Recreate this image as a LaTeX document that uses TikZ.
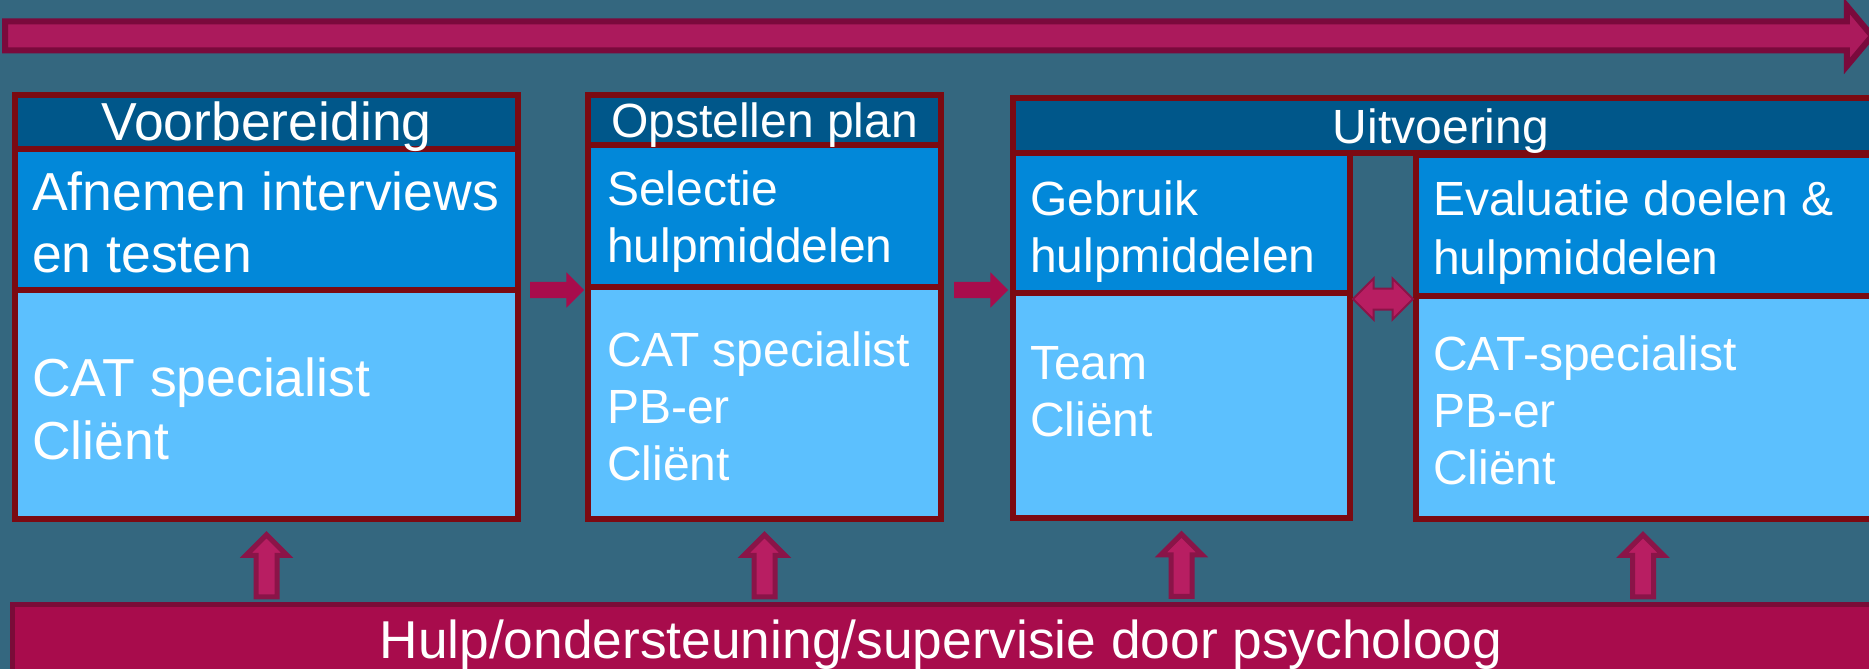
\documentclass[tikz,border=0pt]{standalone}
\usepackage{fontspec}
\setmainfont{Liberation Sans}
\usetikzlibrary{shapes.arrows,calc}
\definecolor{bg}{HTML}{34677F}
\definecolor{hdr}{HTML}{00578A}
\definecolor{mid}{HTML}{0288D9}
\definecolor{lite}{HTML}{5CC0FE}
\definecolor{brd}{HTML}{7B0A12}
\definecolor{mag}{HTML}{A80C4C}
\definecolor{magt}{HTML}{AB1A5C}
\definecolor{magd}{HTML}{7A0A3C}
\definecolor{upf}{HTML}{B81E62}
\definecolor{upd}{HTML}{8A1448}
\definecolor{bard}{HTML}{7A0C38}
\begin{document}
\begin{tikzpicture}[x=1pt,y=-1pt,
  panel/.style={draw=brd, line width=6pt, anchor=north west, inner sep=0pt, outer sep=0pt},
  tA/.style={text=white, anchor=base west, inner sep=0pt, font=\fontsize{53.5}{63}\selectfont},
  tB/.style={text=white, anchor=base west, inner sep=0pt, font=\fontsize{48}{57}\selectfont},
  hA/.style={text=white, anchor=base, inner sep=0pt, font=\fontsize{53.5}{63}\selectfont},
  hB/.style={text=white, anchor=base, inner sep=0pt, font=\fontsize{48}{57}\selectfont},
  harrow/.style={single arrow, fill=mag, draw=none, inner sep=0pt, inner ysep=8pt,
    single arrow head extend=9.5pt, minimum height=54pt},
  dblarrow/.style={double arrow, fill=upf, draw=upd, line width=2pt, inner sep=0pt, inner ysep=9.5pt,
    double arrow head extend=10pt, minimum height=60pt},
  uparrow/.style={single arrow, fill=upf, draw=upd, line width=5pt, inner sep=0pt, inner ysep=8pt,
    single arrow head extend=10pt, minimum height=62pt, rotate=90},
  toparrow/.style={single arrow, fill=magt, draw=magd, line width=6pt, inner sep=0pt, inner ysep=11.5pt,
    single arrow head extend=15.5pt, single arrow tip angle=100, minimum height=1867pt}
]
\fill[bg] (0,0) rectangle (1869,669);
\useasboundingbox (0,0) rectangle (1869,669);
\clip (0,0) rectangle (1869,669);

% top arrow
\coordinate (ta) at (0,36);
\coordinate (tb) at (1865,36);
\path (ta) -- (tb) node[midway, toparrow] (top) {};

% box 1
\node[panel, fill=hdr, minimum width=503pt, minimum height=54pt] (b1h) at (15,95) {};
\node[panel, fill=mid, minimum width=503pt, minimum height=141pt] (b1m) at (15,149) {};
\node[panel, fill=lite, minimum width=503pt, minimum height=229pt] (b1b) at (15,290) {};
% box 2
\node[panel, fill=hdr, minimum width=353pt, minimum height=50pt] (b2h) at (588,95) {};
\node[panel, fill=mid, minimum width=353pt, minimum height=142pt] (b2m) at (588,145) {};
\node[panel, fill=lite, minimum width=353pt, minimum height=232pt] (b2b) at (588,287) {};
% Uitvoering
\node[panel, fill=hdr, minimum width=900pt, minimum height=55pt] (uh) at (1013,98) {};
\node[panel, fill=mid, minimum width=337pt, minimum height=140pt] (b3m) at (1013,153) {};
\node[panel, fill=lite, minimum width=337pt, minimum height=225pt] (b3b) at (1013,293) {};
\node[panel, fill=mid, minimum width=500pt, minimum height=141pt] (b4m) at (1416,155) {};
\node[panel, fill=lite, minimum width=500pt, minimum height=223pt] (b4b) at (1416,296) {};

% bottom bar
\node[draw=bard, fill=mag, line width=5pt, anchor=north west, inner sep=0pt, outer sep=0pt,
  minimum width=1875pt, minimum height=75pt] (bar) at (12,604) {};
\node[hA, font=\fontsize{53.3}{63}\selectfont] (bartext) at (941,658) {Hulp/ondersteuning/supervisie door psycholoog};

% texts box 1
\node[hA] (t1h) at (266.5,140) {Voorbereiding};
\node[tA] (t1a) at (32,210) {Afnemen interviews};
\node[tA] (t1b) at (32,272) {en testen};
\node[tA] (t1c) at (32,396) {CAT specialist};
\node[tA] (t1d) at (32,459) {Cliënt};
% texts box 2
\node[hB] (t2h) at (764.5,137) {Opstellen plan};
\node[tB] (t2a) at (607,205) {Selectie};
\node[tB] (t2b) at (607,262) {hulpmiddelen};
\node[tB] (t2c) at (607,366) {CAT specialist};
\node[tB] (t2d) at (607,423) {PB-er};
\node[tB] (t2e) at (607,480) {Cliënt};
% texts box 3
\node[hB] (t3h) at (1441,143) {Uitvoering};
\node[tB] (t3a) at (1030,215) {Gebruik};
\node[tB] (t3b) at (1030,272) {hulpmiddelen};
\node[tB] (t3c) at (1030,379) {Team};
\node[tB] (t3d) at (1030,436) {Cliënt};
% texts box 4
\node[tB] (t4a) at (1433,215) {Evaluatie doelen \&};
\node[tB] (t4b) at (1433,274) {hulpmiddelen};
\node[tB] (t4c) at (1433,370) {CAT-specialist};
\node[tB] (t4d) at (1433,427) {PB-er};
\node[tB] (t4e) at (1433,484) {Cliënt};

% connectors
\path (b1m.south east) -- (b2m.south west) node[midway, yshift=-1.5pt, harrow] (a1) {};
\path (b2m.south east) -- (b3m.south west) node[midway, harrow] (a2) {};
\path (b3m.south east) -- (b4m.south west) node[midway, yshift=-4.5pt, dblarrow] (a3) {};
\path (bar.north -| b1b.south) -- ($(b1b.south)+(0,19)$) node[midway, uparrow] (u1) {};
\path (bar.north -| b2b.south) -- ($(b2b.south)+(0,19)$) node[midway, uparrow] (u2) {};
\path (bar.north -| b3b.south) -- ($(b3b.south)+(0,19)$) node[midway, uparrow] (u3) {};
\coordinate (u4t) at (1643,538);
\path (bar.north -| u4t) -- (u4t) node[midway, uparrow] (u4) {};
\end{tikzpicture}
\end{document}
